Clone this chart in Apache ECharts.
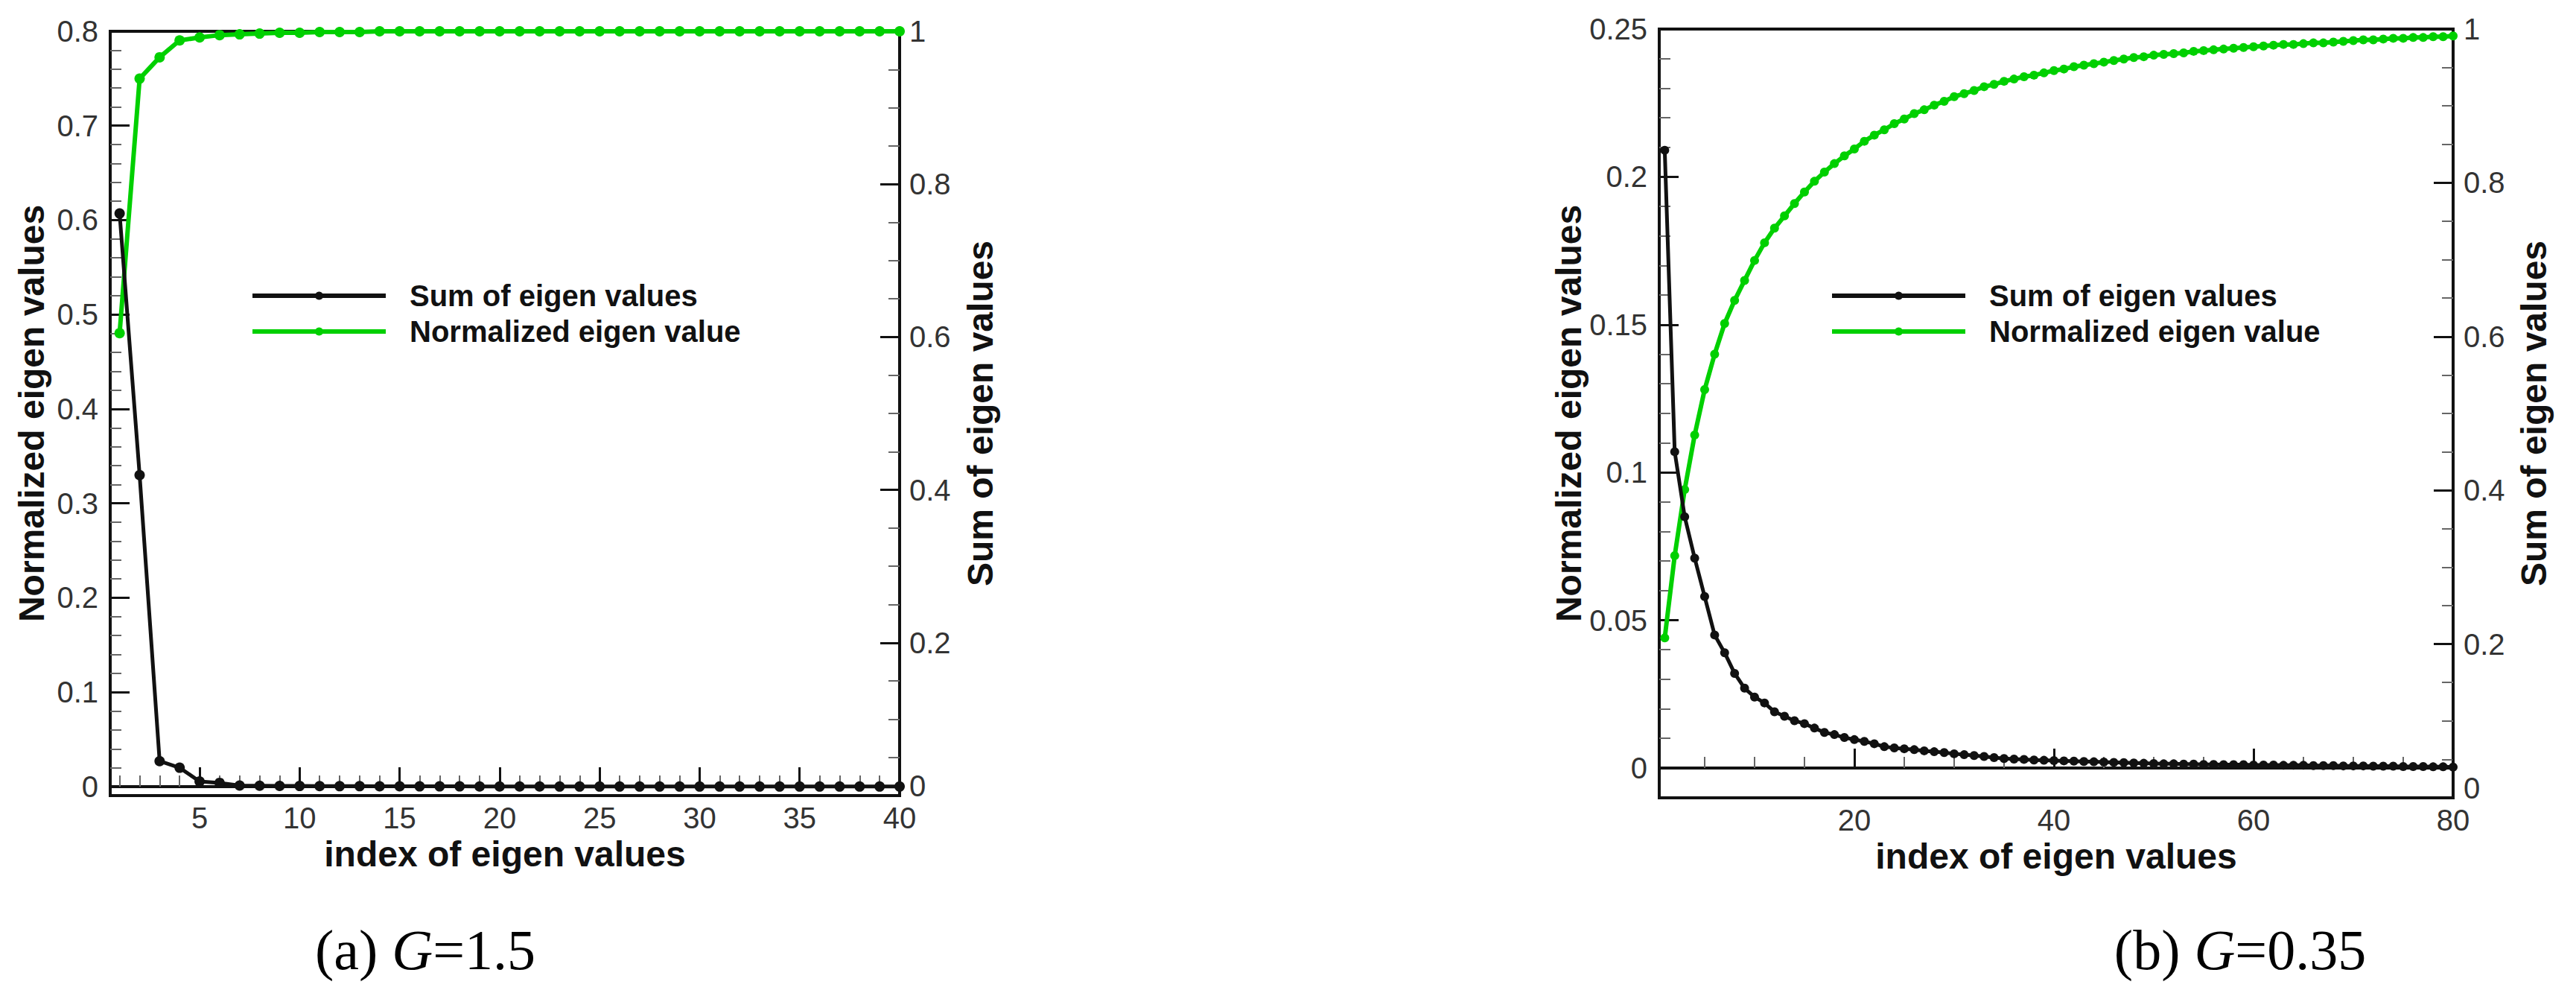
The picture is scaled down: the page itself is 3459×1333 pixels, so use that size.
<!DOCTYPE html>
<html>
<head>
<meta charset="utf-8">
<script src="https://cdn.jsdelivr.net/npm/echarts@6/dist/echarts.min.js"></script>
<style>
html,body{margin:0;padding:0;background:#fff;}
#c{width:3459px;height:1333px;}
</style>
</head>
<body>
<div id="c"></div>
<script>
// ---------- Panel (a) G=1.5 ----------
const indexA = [1,2,3,4,5,6,7,8,9,10,11,12,13,14,15,16,17,18,19,20,21,22,23,24,25,26,27,28,29,30,31,32,33,34,35,36,37,38,39,40];
const normA = [0.607,0.330,0.027,0.020,0.0055,0.004,0.0012,0.0010,0.0008,0.0007,0.0006,0.0005,0.0005,0.0004,0.0004,0.0003,0.0003,0.0003,0.0002,0.0002,0.0002,0.0002,0.0001,0.0001,0.0001,0.0001,0.0001,0.0001,0.0001,0.0001,0.0001,0.0001,0.0001,0.0001,0.0001,0.0001,0.0001,0.0001,0.0001,0.0001];
const sumA = [0.605,0.938,0.966,0.988,0.992,0.995,0.996,0.997,0.998,0.998,0.999,0.999,0.999,1.0,1.0,1.0,1.0,1.0,1.0,1.0,1.0,1.0,1.0,1.0,1.0,1.0,1.0,1.0,1.0,1.0,1.0,1.0,1.0,1.0,1.0,1.0,1.0,1.0,1.0,1.0];
const xTicksA = [5,10,15,20,25,30,35,40];
const yLeftTicksA = [0,0.1,0.2,0.3,0.4,0.5,0.6,0.7,0.8];
const yRightTicks = [0,0.2,0.4,0.6,0.8,1];

// ---------- Panel (b) G=0.35 ----------
const indexB = [1,2,3,4,5,6,7,8,9,10,11,12,13,14,15,16,17,18,19,20,21,22,23,24,25,26,27,28,29,30,31,32,33,34,35,36,37,38,39,40,41,42,43,44,45,46,47,48,49,50,51,52,53,54,55,56,57,58,59,60,61,62,63,64,65,66,67,68,69,70,71,72,73,74,75,76,77,78,79,80];
const normB = [0.209,0.107,0.085,0.071,0.058,0.045,0.039,0.032,0.027,0.024,0.022,0.019,0.0175,0.016,0.015,0.0135,0.012,0.0113,0.0103,0.0096,0.0090,0.0082,0.0072,0.0068,0.0065,0.0062,0.0058,0.0055,0.0052,0.0048,0.0045,0.0042,0.0039,0.0035,0.0032,0.0030,0.0029,0.0027,0.0026,0.0025,0.0024,0.0023,0.0022,0.0021,0.0020,0.0019,0.0018,0.0017,0.0016,0.0015,0.0014,0.0014,0.0013,0.0013,0.0012,0.0012,0.0011,0.0011,0.0011,0.0010,0.0010,0.0010,0.0009,0.0009,0.0009,0.0008,0.0008,0.0008,0.0007,0.0007,0.0007,0.0006,0.0006,0.0006,0.0005,0.0005,0.0005,0.0004,0.0004,0.0003];
const sumB = [0.208,0.315,0.401,0.472,0.531,0.577,0.617,0.647,0.673,0.699,0.722,0.741,0.757,0.773,0.788,0.802,0.814,0.825,0.835,0.844,0.854,0.862,0.869,0.877,0.883,0.890,0.895,0.901,0.906,0.912,0.916,0.920,0.925,0.928,0.932,0.935,0.938,0.940,0.943,0.946,0.948,0.951,0.953,0.955,0.957,0.959,0.961,0.963,0.964,0.966,0.967,0.968,0.969,0.971,0.972,0.973,0.974,0.975,0.976,0.977,0.978,0.979,0.980,0.980,0.981,0.982,0.982,0.983,0.984,0.985,0.986,0.986,0.987,0.988,0.988,0.989,0.989,0.990,0.990,0.991];
const xTicksB = [20,40,60,80];
const yLeftTicksB = [0,0.05,0.1,0.15,0.2,0.25];

const nameBlack = 'Sum of eigen values';
const nameGreen = 'Normalized eigen value';
const captionA = ['(a) ', 'G', '=1.5'];
const captionB = ['(b) ', 'G', '=0.35'];

// minor tick helper (positions between labelled ticks)
function minorTicks(start, stop, step, major) {
  const out = [];
  for (let i = 0; start + i * step <= stop + 1e-9; i++) {
    const v = +(start + i * step).toFixed(6);
    const r = v / major;
    if (Math.abs(r - Math.round(r)) > 1e-6) out.push(v);
  }
  return out;
}
const pairs = (xs, ys) => xs.map((x, i) => [x, ys[i]]);

const SANS = 'Liberation Sans, Arial, sans-serif';
const AX = '#111';
const GREEN = '#00d000';
const lblStyle = { fontSize: 40, color: '#333', fontFamily: SANS };
const nameStyle = { fontSize: 48, fontWeight: 'bold', color: '#111', fontFamily: SANS };

function mainX(grid, min, max, ticks) {
  return {
    type: 'value', gridIndex: grid, min: min, max: max, position: 'bottom',
    splitLine: { show: false },
    axisLine: { show: true, lineStyle: { color: AX, width: 4 } },
    axisTick: { show: true, inside: true, length: 26, lineStyle: { color: AX, width: 3 }, customValues: ticks },
    axisLabel: Object.assign({ customValues: ticks, margin: 10 }, lblStyle),
    name: 'index of eigen values', nameLocation: 'middle', nameGap: 52, nameTextStyle: nameStyle
  };
}
function minorX(grid, min, max, ticks) {
  return {
    type: 'value', gridIndex: grid, min: min, max: max, position: 'bottom',
    splitLine: { show: false }, axisLine: { show: false },
    axisTick: { show: true, inside: true, length: 15, lineStyle: { color: '#666', width: 2 }, customValues: ticks },
    axisLabel: { show: false }
  };
}
function mainY(grid, min, max, ticks, pos, name, gap, margin, liftZero) {
  const label = Object.assign({ customValues: ticks, margin: margin }, lblStyle);
  if (liftZero) {
    // the corner "0" sits slightly above the bottom frame, clear of the last x label
    label.formatter = v => (v === 0 ? '{z|0}' : String(v));
    label.rich = { z: { fontSize: 40, color: '#333', fontFamily: SANS, padding: [0, 0, 26, 0] } };
  }
  return {
    type: 'value', gridIndex: grid, min: min, max: max, position: pos,
    splitLine: { show: false },
    axisLine: { show: true, lineStyle: { color: AX, width: 4 } },
    axisTick: { show: true, inside: true, length: 26, lineStyle: { color: AX, width: 3 }, customValues: ticks },
    axisLabel: label,
    name: name, nameLocation: 'middle', nameGap: gap, nameRotate: 90, nameTextStyle: nameStyle
  };
}
function minorY(grid, min, max, ticks, pos) {
  return {
    type: 'value', gridIndex: grid, min: min, max: max, position: pos,
    splitLine: { show: false }, axisLine: { show: false },
    axisTick: { show: true, inside: true, length: 15, lineStyle: { color: '#666', width: 2 }, customValues: ticks },
    axisLabel: { show: false }
  };
}
function lineSeries(name, color, xi, yi, data, size, width, z) {
  return {
    type: 'line', name: name, xAxisIndex: xi, yAxisIndex: yi, data: data,
    symbol: 'circle', symbolSize: size, showSymbol: true, animation: false, z: z,
    lineStyle: { color: color, width: width }, itemStyle: { color: color }
  };
}
function legend(left) {
  return {
    left: left, top: 372, orient: 'vertical', itemWidth: 179, itemHeight: 14, itemGap: 8,
    data: [nameBlack, nameGreen],
    lineStyle: { width: 6 },
    textStyle: { fontSize: 40, fontWeight: 'bold', color: '#111', fontFamily: SANS, padding: [0, 0, 0, 27], lineHeight: 40 },
    selectedMode: false
  };
}
function caption(c, x) {
  const base = { fontSize: 76, fontFamily: 'Liberation Serif, serif', color: '#000', fontWeight: 'normal' };
  return {
    left: x, top: 1232, textAlign: 'center',
    text: '{n|' + c[0] + '}{i|' + c[1] + '}{n|' + c[2] + '}',
    textStyle: {
      fontWeight: 'normal', fontSize: 76,
      rich: {
        n: base,
        i: Object.assign({}, base, { fontStyle: 'italic' })
      }
    }
  };
}

const gridStyle = { show: true, borderColor: AX, borderWidth: 4, backgroundColor: 'transparent', containLabel: false };

const option = {
  animation: false,
  backgroundColor: '#fff',
  title: [caption(captionA, 566), caption(captionB, 3003)],
  legend: [legend(331), legend(2452)],
  grid: [
    Object.assign({ left: 148, top: 42, width: 1060, height: 1026 }, gridStyle),
    Object.assign({ left: 2228, top: 39, width: 1066, height: 1032 }, gridStyle)
  ],
  xAxis: [
    mainX(0, 0.53, 40, xTicksA),
    minorX(0, 0.53, 40, minorTicks(1, 39, 1, 5)),
    mainX(1, 0.45, 80, xTicksB),
    minorX(1, 0.45, 80, minorTicks(5, 75, 5, 20))
  ],
  yAxis: [
    mainY(0, -0.0095, 0.8, yLeftTicksA, 'left', 'Normalized eigen values', 82, 16, false),
    minorY(0, -0.0095, 0.8, minorTicks(0.02, 0.78, 0.02, 0.1), 'left'),
    mainY(0, 0, 1, yRightTicks, 'right', 'Sum of eigen values', 84, 13, true),
    minorY(0, 0, 1, minorTicks(0.05, 0.95, 0.05, 0.2), 'right'),
    mainY(1, -0.0101, 0.25, yLeftTicksB, 'left', 'Normalized eigen values', 98, 16, false),
    minorY(1, -0.0101, 0.25, minorTicks(0.01, 0.24, 0.01, 0.05), 'left'),
    mainY(1, 0, 1, yRightTicks, 'right', 'Sum of eigen values', 84, 14, true),
    minorY(1, 0, 1, minorTicks(0.05, 0.95, 0.05, 0.2), 'right')
  ],
  series: [
    lineSeries(nameGreen, GREEN, 0, 2, pairs(indexA, sumA), 14, 6, 2),
    lineSeries(nameBlack, '#111', 0, 0, pairs(indexA, normA), 14, 5, 3),
    lineSeries(nameGreen, GREEN, 2, 6, pairs(indexB, sumB), 12, 6, 2),
    lineSeries(nameBlack, '#111', 2, 4, pairs(indexB, normB), 12, 5, 3)
  ]
};

const chart = echarts.init(document.getElementById('c'), null, { renderer: 'svg' });
chart.setOption(option);
</script>
</body>
</html>
